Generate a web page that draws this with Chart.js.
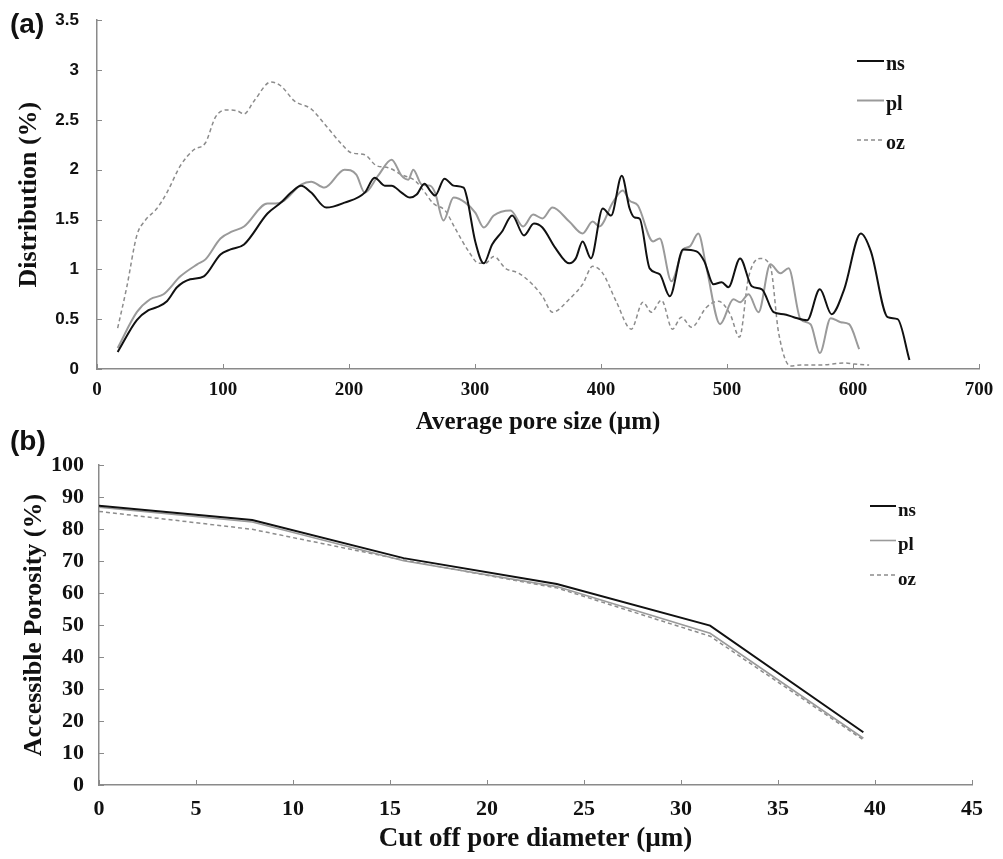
<!DOCTYPE html>
<html lang="en">
<head>
<meta charset="UTF-8">
<title>Pore size distribution and accessible porosity</title>
<script src="https://cdn.jsdelivr.net/npm/chart.js"></script>
<style>
  body { margin: 0; background: #fff; width: 1003px; height: 859px; position: relative; overflow: hidden; }
  .panel { position: absolute; left: 0; width: 1003px; }
  #wrapA { top: 0; height: 440px; }
  #wrapB { top: 440px; height: 419px; }
  .tag { position: absolute; font-family: "Liberation Sans", Arial, sans-serif; font-weight: bold; font-size: 28px; line-height: 28px; color: #111; }
</style>
</head>
<body>
<div class="panel" id="wrapA"><canvas id="chartA"></canvas></div>
<div class="panel" id="wrapB"><canvas id="chartB"></canvas></div>
<div class="tag" style="left:10px;top:10px">(a)</div>
<div class="tag" style="left:10px;top:427px">(b)</div>

<script>
// panel (a): pore size distribution
const nsX = [16.4, 31.6, 40.9, 47.5, 55.5, 63.5, 74, 84.8, 98, 106, 116.7, 135.3, 146, 154, 162, 170, 182, 196.5, 212.5, 220.4, 228.4, 233.8, 241.7, 248.4, 253.7, 259.9, 264.3, 268.3, 275.8, 283, 291, 293.6, 300.2, 307, 313.6, 321.5, 329.5, 338.9, 346.8, 353.5, 364, 374.8, 380, 385.4, 392, 401.4, 408, 416.5, 422.7, 426.7, 430.6, 438.6, 446.6, 454.6, 465.2, 475.8, 482, 489.2, 495.8, 501.1, 510.4, 519.7, 527.7, 537, 545, 553, 563.6, 573.7, 583, 593, 606.2, 614.2, 627.5, 635.4, 644.8];
const nsY = [0.17, 0.49, 0.59, 0.62, 0.68, 0.82, 0.90, 0.93, 1.15, 1.20, 1.25, 1.56, 1.67, 1.77, 1.84, 1.77, 1.62, 1.67, 1.77, 1.92, 1.84, 1.84, 1.77, 1.72, 1.75, 1.86, 1.79, 1.74, 1.91, 1.84, 1.82, 1.72, 1.28, 1.06, 1.25, 1.38, 1.54, 1.34, 1.46, 1.42, 1.21, 1.06, 1.11, 1.28, 1.11, 1.61, 1.54, 1.94, 1.61, 1.52, 1.51, 1.01, 0.95, 0.73, 1.20, 1.18, 1.08, 0.85, 0.87, 0.82, 1.11, 0.83, 0.80, 0.57, 0.55, 0.52, 0.49, 0.80, 0.55, 0.80, 1.36, 1.18, 0.52, 0.50, 0.09];

const plX = [16.4, 31.6, 42.2, 52.8, 66.2, 79.5, 86.1, 98, 107.4, 116.7, 135.3, 142, 148.6, 162, 170, 180.5, 196.5, 205.8, 212.5, 223.1, 233.8, 241.7, 247.1, 251, 257.7, 264.3, 268.3, 275, 283, 292.3, 300.2, 307, 314.9, 328.2, 338.2, 346.2, 353.5, 361.5, 374.8, 385.4, 393.4, 398.7, 409.3, 417.3, 422.7, 429.3, 441.3, 446.6, 455.9, 465.2, 470.5, 477.2, 483.8, 494.5, 505.1, 510.4, 517.1, 525, 534.4, 542.4, 548.9, 558.3, 566.3, 573.7, 582.3, 590.3, 596.9, 604.9];
const plY = [0.21, 0.57, 0.70, 0.75, 0.93, 1.05, 1.10, 1.31, 1.38, 1.43, 1.66, 1.66, 1.69, 1.85, 1.88, 1.82, 2.00, 1.95, 1.77, 1.94, 2.10, 1.94, 1.90, 2.00, 1.85, 1.84, 1.77, 1.49, 1.72, 1.67, 1.57, 1.42, 1.54, 1.59, 1.43, 1.55, 1.51, 1.62, 1.48, 1.36, 1.48, 1.43, 1.67, 1.79, 1.69, 1.64, 1.28, 1.31, 0.88, 1.20, 1.23, 1.36, 1.01, 0.45, 0.70, 0.67, 0.75, 0.57, 1.05, 0.96, 1.01, 0.50, 0.45, 0.16, 0.51, 0.47, 0.45, 0.20];

const ozX = [16.4, 23.6, 31.6, 38.2, 47.5, 55.5, 66.2, 76.8, 86.1, 94.1, 103.4, 111.4, 116.7, 124.7, 138, 146, 156.6, 169.9, 180.5, 193.9, 201.8, 212.5, 221.8, 231.1, 241.7, 252.4, 260.3, 267, 276.3, 284.3, 295, 303, 308.2, 314.9, 324.2, 334.9, 345.5, 353.5, 361.5, 374.8, 385.4, 393.4, 401.4, 412, 424, 433.3, 440, 448, 456.7, 463.8, 471.8, 483.8, 493.1, 502.5, 509.9, 517.1, 526.4, 534.4, 541, 550.4, 558.3, 574.3, 593, 600.9, 612.8];
const ozY = [0.41, 0.82, 1.34, 1.49, 1.61, 1.77, 2.04, 2.20, 2.27, 2.53, 2.60, 2.59, 2.56, 2.69, 2.88, 2.84, 2.69, 2.61, 2.46, 2.26, 2.17, 2.15, 2.04, 2.02, 1.95, 1.89, 1.77, 1.66, 1.59, 1.41, 1.18, 1.06, 1.06, 1.13, 1.01, 0.96, 0.85, 0.73, 0.57, 0.70, 0.85, 1.03, 0.96, 0.68, 0.40, 0.67, 0.57, 0.69, 0.40, 0.52, 0.42, 0.62, 0.68, 0.55, 0.32, 0.92, 1.11, 1.03, 0.36, 0.03, 0.04, 0.04, 0.06, 0.05, 0.04];

// panel (b): accessible porosity vs cut off diameter
const cutX = [0, 7.9, 15.7, 23.6, 31.5, 39.4];
const porNs = [87.3, 82.8, 70.9, 62.8, 49.8, 16.5];
const porPl = [86.8, 82.2, 70.1, 62.0, 47.4, 14.6];
const porOz = [85.5, 79.9, 70.3, 61.6, 46.5, 14.1];

const seriesNames = ['ns', 'pl', 'oz'];

const SERIF = '"Liberation Serif", "Times New Roman", serif';
const SANS = '"Liberation Sans", Arial, sans-serif';
const AXIS_GREY = '#8a8a8a';

Chart.defaults.font.family = SERIF;
Chart.defaults.color = '#111';

function pts(xs, ys) {
  return xs.map((x, i) => ({ x: x, y: ys[i] }));
}

function styles(dashW) {
  return [
    { borderColor: '#111', borderWidth: 2, borderDash: [] },
    { borderColor: '#9a9a9a', borderWidth: 2, borderDash: [] },
    { borderColor: '#8c8c8c', borderWidth: dashW, borderDash: [4, 3] }
  ];
}

// small inward tick marks like the original
const innerTicks = {
  id: 'innerTicks',
  afterDraw(chart) {
    const ctx = chart.ctx;
    const area = chart.chartArea;
    ctx.save();
    ctx.strokeStyle = AXIS_GREY;
    ctx.lineWidth = 1;
    chart.scales.x.ticks.forEach(t => {
      const px = Math.round(chart.scales.x.getPixelForValue(t.value)) + 0.5;
      ctx.beginPath();
      ctx.moveTo(px, area.bottom);
      ctx.lineTo(px, area.bottom - 5);
      ctx.stroke();
    });
    chart.scales.y.ticks.forEach(t => {
      const py = Math.round(chart.scales.y.getPixelForValue(t.value)) + 0.5;
      ctx.beginPath();
      ctx.moveTo(area.left, py);
      ctx.lineTo(area.left + 5, py);
      ctx.stroke();
    });
    ctx.restore();
  }
};

// legend drawn at a fixed spot inside the plot
const boxLegend = {
  id: 'boxLegend',
  afterDraw(chart, args, o) {
    const ctx = chart.ctx;
    ctx.save();
    ctx.font = 'bold ' + o.size + 'px ' + SERIF;
    ctx.textBaseline = 'middle';
    ctx.fillStyle = '#111';
    chart.data.datasets.forEach((ds, i) => {
      const y = o.y + i * o.gap;
      ctx.strokeStyle = ds.borderColor;
      ctx.lineWidth = ds.borderWidth;
      ctx.setLineDash(ds.borderDash || []);
      ctx.beginPath();
      ctx.moveTo(o.x, y);
      ctx.lineTo(o.x + o.len, y);
      ctx.stroke();
      ctx.setLineDash([]);
      ctx.fillText(ds.label, o.x + o.len + 2, y + o.textDy);
    });
    ctx.restore();
  }
};

function makeChart(id, cfg) {
  return new Chart(document.getElementById(id), {
    type: 'line',
    data: { datasets: cfg.datasets },
    plugins: [innerTicks, boxLegend],
    options: {
      responsive: true,
      maintainAspectRatio: false,
      animation: false,
      layout: { padding: cfg.padding },
      elements: { point: { radius: 0 } },
      plugins: {
        legend: { display: false },
        tooltip: { enabled: false },
        boxLegend: cfg.legend
      },
      scales: {
        x: {
          type: 'linear',
          min: cfg.x.min, max: cfg.x.max,
          afterFit: s => { s.height = cfg.x.height; },
          grid: { display: false },
          border: { color: AXIS_GREY, width: 1.5 },
          ticks: { stepSize: cfg.x.step, padding: cfg.x.pad, maxRotation: 0, autoSkip: false,
                   font: { family: SERIF, weight: 'bold', size: cfg.x.size }, color: '#111' },
          title: { display: true, text: cfg.x.title, color: '#111',
                   font: { family: SERIF, weight: 'bold', size: cfg.x.titleSize, lineHeight: 1.2 },
                   padding: { top: 0, bottom: cfg.x.titlePad } }
        },
        y: {
          min: cfg.y.min, max: cfg.y.max,
          afterFit: s => { s.width = cfg.y.width; },
          grid: { display: false },
          border: { color: AXIS_GREY, width: 1.5 },
          ticks: { stepSize: cfg.y.step, padding: cfg.y.pad, callback: v => String(v),
                   font: { family: cfg.y.family, weight: 'bold', size: cfg.y.size }, color: '#111' },
          title: { display: true, text: cfg.y.title, color: '#111',
                   font: { family: SERIF, weight: 'bold', size: cfg.y.titleSize, lineHeight: 1.2 },
                   padding: { top: cfg.y.titlePad, bottom: 0 } }
        }
      }
    }
  });
}

const stA = styles(1.5);
const dataA = [pts(nsX, nsY), pts(plX, plY), pts(ozX, ozY)];
makeChart('chartA', {
  datasets: seriesNames.map((n, i) => Object.assign({
    label: n, data: dataA[i], fill: false, cubicInterpolationMode: 'monotone'
  }, stA[i])),
  padding: { top: 15, right: 24, left: 0, bottom: 0 },
  legend: { x: 857, y: 61, gap: 39.5, len: 27, size: 20, textDy: 4 },
  x: { min: 0, max: 700, step: 100, height: 71, pad: 2, size: 19,
       title: 'Average pore size (\u00b5m)', titleSize: 25, titlePad: 2 },
  y: { min: 0, max: 3.5, step: 0.5, width: 97, pad: 10, size: 17, family: SANS,
       title: 'Distribution (%)', titleSize: 26, titlePad: 14 }
});

const stB = styles(1.5);
stB[1].borderWidth = 1.6;
const dataB = [pts(cutX, porNs), pts(cutX, porPl), pts(cutX, porOz)];
makeChart('chartB', {
  datasets: seriesNames.map((n, i) => Object.assign({
    label: n, data: dataB[i], fill: false, tension: 0
  }, stB[i])),
  padding: { top: 25, right: 31, left: 0, bottom: 0 },
  legend: { x: 870, y: 66, gap: 34.5, len: 26, size: 19, textDy: 5 },
  x: { min: 0, max: 45, step: 5, height: 74, pad: 3, size: 22,
       title: 'Cut off pore diameter (\u00b5m)', titleSize: 27, titlePad: 4 },
  y: { min: 0, max: 100, step: 10, width: 99, pad: 7, size: 22, family: SERIF,
       title: 'Accessible Porosity (%)', titleSize: 26, titlePad: 19 }
});
</script>
</body>
</html>
